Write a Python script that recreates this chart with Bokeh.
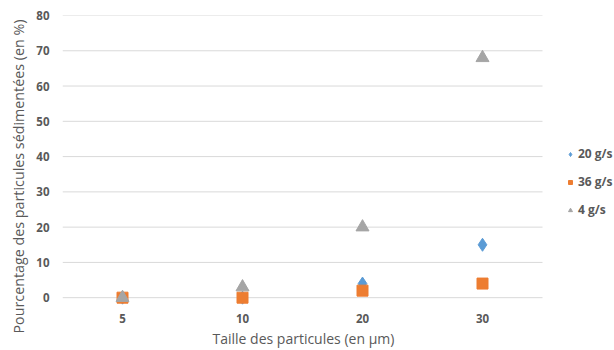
from bokeh.plotting import figure
from bokeh.models import Range1d, Legend, LegendItem, FixedTicker, Title
from bokeh.embed import file_html
from bokeh.resources import INLINE

sizes = ["5", "10", "20", "30"]
s20 = [0, 0, 4, 15]
s36 = [0, 0, 2, 4]
s4 = [0, 3, 20, 68]
y_ticks = [0, 10, 20, 30, 40, 50, 60, 70, 80]

xpos = list(range(len(sizes)))

FONT = "Open Sans"
GREY = "#595959"

p = figure(width=614, height=350, output_backend="svg", toolbar_location=None,
           x_range=Range1d(-0.5, len(sizes) + 0.1),
           y_range=Range1d(-2.5, 80),
           min_border_left=62, min_border_right=0, min_border_top=15, min_border_bottom=44)
p.outline_line_color = None
p.background_fill_color = "white"

# horizontal gridlines spanning the category area only
p.segment(x0=[-0.5] * len(y_ticks), x1=[len(sizes) - 0.5] * len(y_ticks),
          y0=y_ticks, y1=y_ticks, line_color="#D9D9D9", line_width=1, level="underlay")

r20 = p.scatter(xpos, s20, marker="diamond", size=13, color="#5B9BD5")
r36 = p.scatter(xpos, s36, marker="square", size=11, color="#ED7D31")
r4 = p.scatter(xpos, s4, marker="triangle", size=13, color="#A5A5A5")

p.xgrid.grid_line_color = None
p.ygrid.grid_line_color = None
p.yaxis.ticker = FixedTicker(ticks=y_ticks)
p.xaxis.ticker = FixedTicker(ticks=xpos)
p.xaxis.major_label_overrides = {i: s for i, s in zip(xpos, sizes)}

for ax in (p.xaxis[0], p.yaxis[0]):
    ax.axis_line_color = None
    ax.major_tick_line_color = None
    ax.minor_tick_line_color = None
    ax.major_tick_out = 0
    ax.major_tick_in = 0
    ax.major_label_text_font = FONT
    ax.major_label_text_font_size = "11.5px"
    ax.major_label_text_font_style = "bold"
    ax.major_label_text_color = GREY

p.xaxis.major_label_standoff = 7
p.yaxis.major_label_standoff = 13

xt = Title(text="Taille des particules (en µm)", align="left", offset=150,
           vertical_align="middle", standoff=4,
           text_font=FONT, text_font_size="14px", text_font_style="normal",
           text_color=GREY)
p.add_layout(xt, "below")

yt = Title(text="Pourcentage des particules sédimentées (en %)", align="left", offset=-27,
           vertical_align="middle",
           text_font=FONT, text_font_size="14.3px", text_font_style="normal",
           text_color=GREY)
p.add_layout(yt, "left")

legend = Legend(items=[LegendItem(label="20 g/s", renderers=[r20]),
                       LegendItem(label="36 g/s", renderers=[r36]),
                       LegendItem(label="4 g/s", renderers=[r4])],
                location=(503, 88), orientation="vertical")
legend.border_line_color = None
legend.background_fill_alpha = 0
legend.padding = 0
legend.margin = 0
legend.spacing = 11
legend.glyph_width = 10
legend.glyph_height = 14
legend.label_height = 14
legend.label_standoff = 3
legend.label_text_font = FONT
legend.label_text_font_size = "12px"
legend.label_text_font_style = "bold"
legend.label_text_color = GREY
p.add_layout(legend, "center")

open("out.html", "w").write(file_html(p, INLINE))
